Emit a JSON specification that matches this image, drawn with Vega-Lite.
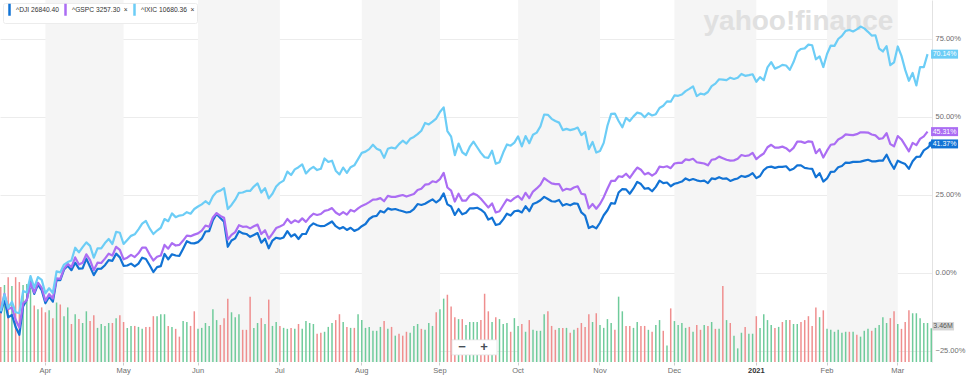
{
"$schema": "https://vega.github.io/schema/vega-lite/v6.json",
"width": 932, "height": 362,
"autosize": {"type": "none"},
"padding": {"left": 0, "top": 0, "right": 34, "bottom": 20},
"background": "#ffffff",
"config": {"view": {"stroke": null}, "font": "Liberation Sans", "text": {"font": "Liberation Sans"}},
"data": {"values": [
{"d":"2020-03-16","dji":-12.9,"gspc":-12.0,"ixic":-12.3,"vol":7.7,"dir":"down"},
{"d":"2020-03-17","dji":-8.4,"gspc":-6.7,"ixic":-6.9,"vol":7.9,"dir":"up"},
{"d":"2020-03-18","dji":-14.2,"gspc":-11.5,"ixic":-11.2,"vol":8.7,"dir":"down"},
{"d":"2020-03-19","dji":-13.4,"gspc":-11.1,"ixic":-9.2,"vol":7.8,"dir":"up"},
{"d":"2020-03-20","dji":-17.3,"gspc":-15.0,"ixic":-12.6,"vol":8.7,"dir":"down"},
{"d":"2020-03-23","dji":-19.8,"gspc":-17.5,"ixic":-12.9,"vol":8.2,"dir":"down"},
{"d":"2020-03-24","dji":-10.7,"gspc":-9.7,"ixic":-5.8,"vol":7.9,"dir":"up"},
{"d":"2020-03-25","dji":-8.6,"gspc":-8.7,"ixic":-6.2,"vol":8.0,"dir":"up"},
{"d":"2020-03-26","dji":-2.7,"gspc":-3.0,"ixic":-1.0,"vol":7.6,"dir":"up"},
{"d":"2020-03-27","dji":-6.7,"gspc":-6.3,"ixic":-4.7,"vol":5.8,"dir":"down"},
{"d":"2020-03-30","dji":-3.7,"gspc":-3.1,"ixic":-1.3,"vol":5.4,"dir":"up"},
{"d":"2020-03-31","dji":-5.5,"gspc":-4.7,"ixic":-2.2,"vol":5.6,"dir":"down"},
{"d":"2020-04-01","dji":-9.7,"gspc":-8.9,"ixic":-6.5,"vol":5.1,"dir":"down"},
{"d":"2020-04-02","dji":-7.6,"gspc":-6.8,"ixic":-4.9,"vol":5.3,"dir":"up"},
{"d":"2020-04-03","dji":-9.2,"gspc":-8.2,"ixic":-6.4,"vol":4.5,"dir":"down"},
{"d":"2020-04-06","dji":-2.2,"gspc":-1.7,"ixic":0.5,"vol":6.1,"dir":"up"},
{"d":"2020-04-07","dji":-2.3,"gspc":-1.9,"ixic":0.2,"vol":5.9,"dir":"down"},
{"d":"2020-04-08","dji":1.1,"gspc":1.4,"ixic":2.7,"vol":4.7,"dir":"up"},
{"d":"2020-04-09","dji":2.3,"gspc":2.9,"ixic":3.5,"vol":5.6,"dir":"up"},
{"d":"2020-04-13","dji":0.9,"gspc":1.9,"ixic":4.0,"vol":3.9,"dir":"down"},
{"d":"2020-04-14","dji":3.3,"gspc":5.0,"ixic":8.1,"vol":4.9,"dir":"up"},
{"d":"2020-04-15","dji":1.4,"gspc":2.7,"ixic":6.6,"vol":4.4,"dir":"down"},
{"d":"2020-04-16","dji":1.5,"gspc":3.3,"ixic":8.3,"vol":4.0,"dir":"up"},
{"d":"2020-04-17","dji":4.6,"gspc":6.0,"ixic":9.8,"vol":5.2,"dir":"up"},
{"d":"2020-04-20","dji":2.0,"gspc":4.1,"ixic":8.7,"vol":4.2,"dir":"down"},
{"d":"2020-04-21","dji":-0.7,"gspc":0.9,"ixic":4.9,"vol":4.8,"dir":"down"},
{"d":"2020-04-22","dji":1.3,"gspc":3.3,"ixic":7.9,"vol":3.5,"dir":"up"},
{"d":"2020-04-23","dji":1.4,"gspc":3.2,"ixic":7.9,"vol":3.9,"dir":"up"},
{"d":"2020-04-24","dji":2.5,"gspc":4.6,"ixic":9.6,"vol":3.7,"dir":"up"},
{"d":"2020-04-27","dji":4.1,"gspc":6.2,"ixic":10.9,"vol":4.0,"dir":"up"},
{"d":"2020-04-28","dji":3.9,"gspc":5.6,"ixic":9.3,"vol":4.0,"dir":"down"},
{"d":"2020-04-29","dji":6.2,"gspc":8.4,"ixic":13.2,"vol":4.5,"dir":"up"},
{"d":"2020-04-30","dji":5.0,"gspc":7.4,"ixic":12.9,"vol":4.8,"dir":"down"},
{"d":"2020-05-01","dji":2.3,"gspc":4.4,"ixic":9.3,"vol":4.1,"dir":"down"},
{"d":"2020-05-04","dji":2.4,"gspc":4.9,"ixic":10.6,"vol":3.5,"dir":"up"},
{"d":"2020-05-05","dji":3.0,"gspc":5.8,"ixic":11.9,"vol":3.7,"dir":"up"},
{"d":"2020-05-06","dji":2.1,"gspc":5.1,"ixic":12.4,"vol":3.7,"dir":"down"},
{"d":"2020-05-07","dji":3.0,"gspc":6.3,"ixic":14.0,"vol":3.6,"dir":"up"},
{"d":"2020-05-08","dji":4.9,"gspc":8.1,"ixic":15.8,"vol":3.4,"dir":"up"},
{"d":"2020-05-11","dji":4.5,"gspc":8.1,"ixic":16.7,"vol":3.6,"dir":"down"},
{"d":"2020-05-12","dji":2.5,"gspc":5.9,"ixic":14.3,"vol":3.6,"dir":"down"},
{"d":"2020-05-13","dji":0.3,"gspc":4.0,"ixic":12.5,"vol":4.7,"dir":"down"},
{"d":"2020-05-14","dji":1.9,"gspc":5.2,"ixic":13.6,"vol":4.7,"dir":"up"},
{"d":"2020-05-15","dji":2.2,"gspc":5.6,"ixic":14.5,"vol":4.9,"dir":"up"},
{"d":"2020-05-18","dji":6.1,"gspc":9.0,"ixic":17.3,"vol":4.9,"dir":"up"},
{"d":"2020-05-19","dji":4.4,"gspc":7.8,"ixic":16.6,"vol":3.7,"dir":"down"},
{"d":"2020-05-20","dji":6.0,"gspc":9.6,"ixic":19.1,"vol":3.6,"dir":"up"},
{"d":"2020-05-21","dji":5.6,"gspc":8.8,"ixic":17.9,"vol":3.4,"dir":"down"},
{"d":"2020-05-22","dji":5.5,"gspc":9.0,"ixic":18.4,"vol":2.6,"dir":"down"},
{"d":"2020-05-26","dji":7.8,"gspc":10.4,"ixic":18.6,"vol":4.2,"dir":"up"},
{"d":"2020-05-27","dji":10.2,"gspc":12.0,"ixic":19.5,"vol":4.1,"dir":"up"},
{"d":"2020-05-28","dji":9.6,"gspc":11.8,"ixic":19.0,"vol":3.7,"dir":"down"},
{"d":"2020-05-29","dji":9.5,"gspc":12.3,"ixic":20.5,"vol":5.2,"dir":"down"},
{"d":"2020-06-01","dji":9.9,"gspc":12.7,"ixic":21.3,"vol":3.4,"dir":"up"},
{"d":"2020-06-02","dji":11.0,"gspc":13.6,"ixic":22.0,"vol":3.5,"dir":"up"},
{"d":"2020-06-03","dji":13.3,"gspc":15.2,"ixic":23.0,"vol":4.0,"dir":"up"},
{"d":"2020-06-04","dji":13.4,"gspc":14.8,"ixic":22.1,"vol":3.7,"dir":"up"},
{"d":"2020-06-05","dji":16.9,"gspc":17.8,"ixic":24.6,"vol":5.4,"dir":"up"},
{"d":"2020-06-08","dji":18.9,"gspc":19.2,"ixic":26.0,"vol":4.3,"dir":"up"},
{"d":"2020-06-09","dji":17.6,"gspc":18.3,"ixic":26.4,"vol":3.8,"dir":"down"},
{"d":"2020-06-10","dji":16.4,"gspc":17.7,"ixic":27.2,"vol":4.5,"dir":"down"},
{"d":"2020-06-11","dji":8.4,"gspc":10.7,"ixic":20.5,"vol":6.5,"dir":"down"},
{"d":"2020-06-12","dji":10.4,"gspc":12.2,"ixic":21.8,"vol":5.1,"dir":"up"},
{"d":"2020-06-15","dji":11.1,"gspc":13.1,"ixic":23.5,"vol":4.6,"dir":"up"},
{"d":"2020-06-16","dji":13.4,"gspc":15.3,"ixic":25.7,"vol":4.9,"dir":"up"},
{"d":"2020-06-17","dji":12.7,"gspc":14.8,"ixic":25.8,"vol":3.3,"dir":"down"},
{"d":"2020-06-18","dji":12.5,"gspc":14.9,"ixic":26.3,"vol":3.3,"dir":"down"},
{"d":"2020-06-19","dji":11.6,"gspc":14.3,"ixic":26.3,"vol":6.7,"dir":"down"},
{"d":"2020-06-22","dji":12.2,"gspc":15.0,"ixic":27.7,"vol":3.5,"dir":"up"},
{"d":"2020-06-23","dji":12.8,"gspc":15.5,"ixic":28.7,"vol":4.0,"dir":"up"},
{"d":"2020-06-24","dji":9.7,"gspc":12.5,"ixic":25.8,"vol":4.5,"dir":"down"},
{"d":"2020-06-25","dji":11.0,"gspc":13.7,"ixic":27.2,"vol":3.9,"dir":"up"},
{"d":"2020-06-26","dji":7.9,"gspc":11.0,"ixic":23.9,"vol":6.4,"dir":"down"},
{"d":"2020-06-29","dji":10.4,"gspc":12.6,"ixic":25.4,"vol":3.7,"dir":"up"},
{"d":"2020-06-30","dji":11.3,"gspc":14.4,"ixic":27.7,"vol":4.1,"dir":"up"},
{"d":"2020-07-01","dji":11.0,"gspc":14.9,"ixic":28.9,"vol":3.7,"dir":"down"},
{"d":"2020-07-02","dji":11.4,"gspc":15.5,"ixic":29.6,"vol":3.5,"dir":"up"},
{"d":"2020-07-06","dji":13.4,"gspc":17.3,"ixic":32.5,"vol":3.4,"dir":"up"},
{"d":"2020-07-07","dji":11.7,"gspc":16.0,"ixic":31.4,"vol":3.5,"dir":"down"},
{"d":"2020-07-08","dji":12.4,"gspc":16.9,"ixic":33.2,"vol":3.4,"dir":"up"},
{"d":"2020-07-09","dji":10.9,"gspc":16.3,"ixic":33.9,"vol":3.9,"dir":"down"},
{"d":"2020-07-10","dji":12.5,"gspc":17.5,"ixic":34.8,"vol":3.4,"dir":"up"},
{"d":"2020-07-13","dji":12.5,"gspc":16.4,"ixic":31.9,"vol":4.2,"dir":"up"},
{"d":"2020-07-14","dji":14.9,"gspc":17.9,"ixic":33.2,"vol":4.0,"dir":"up"},
{"d":"2020-07-15","dji":15.9,"gspc":19.0,"ixic":34.0,"vol":3.9,"dir":"up"},
{"d":"2020-07-16","dji":15.3,"gspc":18.6,"ixic":33.0,"vol":2.9,"dir":"down"},
{"d":"2020-07-17","dji":15.0,"gspc":18.9,"ixic":33.4,"vol":3.0,"dir":"down"},
{"d":"2020-07-20","dji":15.1,"gspc":19.9,"ixic":36.7,"vol":3.1,"dir":"up"},
{"d":"2020-07-21","dji":15.8,"gspc":20.2,"ixic":35.6,"vol":3.6,"dir":"up"},
{"d":"2020-07-22","dji":16.5,"gspc":20.8,"ixic":36.0,"vol":4.0,"dir":"up"},
{"d":"2020-07-23","dji":15.0,"gspc":19.4,"ixic":32.8,"vol":4.3,"dir":"down"},
{"d":"2020-07-24","dji":14.2,"gspc":18.6,"ixic":31.6,"vol":4.9,"dir":"down"},
{"d":"2020-07-27","dji":14.7,"gspc":19.5,"ixic":33.8,"vol":4.1,"dir":"up"},
{"d":"2020-07-28","dji":13.8,"gspc":18.7,"ixic":32.1,"vol":3.6,"dir":"down"},
{"d":"2020-07-29","dji":14.5,"gspc":20.2,"ixic":33.9,"vol":3.5,"dir":"up"},
{"d":"2020-07-30","dji":13.5,"gspc":19.7,"ixic":34.5,"vol":3.5,"dir":"down"},
{"d":"2020-07-31","dji":14.0,"gspc":20.7,"ixic":36.5,"vol":4.9,"dir":"up"},
{"d":"2020-08-03","dji":15.0,"gspc":21.5,"ixic":38.5,"vol":4.3,"dir":"up"},
{"d":"2020-08-04","dji":15.7,"gspc":22.0,"ixic":38.9,"vol":3.5,"dir":"up"},
{"d":"2020-08-05","dji":17.3,"gspc":22.7,"ixic":39.7,"vol":3.6,"dir":"up"},
{"d":"2020-08-06","dji":18.1,"gspc":23.5,"ixic":41.1,"vol":3.2,"dir":"up"},
{"d":"2020-08-07","dji":18.3,"gspc":23.6,"ixic":39.8,"vol":3.2,"dir":"up"},
{"d":"2020-08-10","dji":19.9,"gspc":24.0,"ixic":39.3,"vol":3.6,"dir":"up"},
{"d":"2020-08-11","dji":19.4,"gspc":23.0,"ixic":36.9,"vol":4.2,"dir":"down"},
{"d":"2020-08-12","dji":20.7,"gspc":24.7,"ixic":39.8,"vol":3.4,"dir":"up"},
{"d":"2020-08-13","dji":20.3,"gspc":24.4,"ixic":40.2,"vol":3.6,"dir":"down"},
{"d":"2020-08-14","dji":20.5,"gspc":24.4,"ixic":39.9,"vol":2.7,"dir":"up"},
{"d":"2020-08-17","dji":20.1,"gspc":24.7,"ixic":41.3,"vol":2.9,"dir":"down"},
{"d":"2020-08-18","dji":19.8,"gspc":25.0,"ixic":42.4,"vol":2.7,"dir":"down"},
{"d":"2020-08-19","dji":19.4,"gspc":24.5,"ixic":41.5,"vol":3.1,"dir":"down"},
{"d":"2020-08-20","dji":19.6,"gspc":24.9,"ixic":43.0,"vol":3.0,"dir":"up"},
{"d":"2020-08-21","dji":20.5,"gspc":25.3,"ixic":43.6,"vol":3.7,"dir":"up"},
{"d":"2020-08-24","dji":22.1,"gspc":26.6,"ixic":44.5,"vol":3.9,"dir":"up"},
{"d":"2020-08-25","dji":21.8,"gspc":27.0,"ixic":45.6,"vol":3.4,"dir":"down"},
{"d":"2020-08-26","dji":22.2,"gspc":28.3,"ixic":48.1,"vol":3.3,"dir":"up"},
{"d":"2020-08-27","dji":22.9,"gspc":28.5,"ixic":47.6,"vol":4.0,"dir":"up"},
{"d":"2020-08-28","dji":23.6,"gspc":29.4,"ixic":48.5,"vol":3.7,"dir":"up"},
{"d":"2020-08-31","dji":22.6,"gspc":29.1,"ixic":49.5,"vol":5.1,"dir":"down"},
{"d":"2020-09-01","dji":23.5,"gspc":30.1,"ixic":51.6,"vol":5.4,"dir":"up"},
{"d":"2020-09-02","dji":25.5,"gspc":32.1,"ixic":53.1,"vol":6.5,"dir":"up"},
{"d":"2020-09-03","dji":22.0,"gspc":27.4,"ixic":45.5,"vol":6.9,"dir":"down"},
{"d":"2020-09-04","dji":21.3,"gspc":26.4,"ixic":43.7,"vol":5.7,"dir":"down"},
{"d":"2020-09-08","dji":18.6,"gspc":22.9,"ixic":37.8,"vol":4.6,"dir":"down"},
{"d":"2020-09-09","dji":20.5,"gspc":25.4,"ixic":41.5,"vol":4.4,"dir":"up"},
{"d":"2020-09-10","dji":18.8,"gspc":23.2,"ixic":38.7,"vol":4.4,"dir":"down"},
{"d":"2020-09-11","dji":19.3,"gspc":23.2,"ixic":37.8,"vol":3.8,"dir":"up"},
{"d":"2020-09-14","dji":20.7,"gspc":24.8,"ixic":40.4,"vol":4.1,"dir":"up"},
{"d":"2020-09-15","dji":20.7,"gspc":25.5,"ixic":42.1,"vol":4.1,"dir":"up"},
{"d":"2020-09-16","dji":20.9,"gspc":24.9,"ixic":40.3,"vol":4.1,"dir":"up"},
{"d":"2020-09-17","dji":20.3,"gspc":23.8,"ixic":38.5,"vol":4.3,"dir":"down"},
{"d":"2020-09-18","dji":19.3,"gspc":22.4,"ixic":37.1,"vol":7.0,"dir":"down"},
{"d":"2020-09-21","dji":17.1,"gspc":21.0,"ixic":36.9,"vol":5.2,"dir":"down"},
{"d":"2020-09-22","dji":17.7,"gspc":22.3,"ixic":39.2,"vol":4.1,"dir":"up"},
{"d":"2020-09-23","dji":15.4,"gspc":19.4,"ixic":35.0,"vol":4.6,"dir":"down"},
{"d":"2020-09-24","dji":15.7,"gspc":19.8,"ixic":35.5,"vol":4.4,"dir":"up"},
{"d":"2020-09-25","dji":17.2,"gspc":21.7,"ixic":38.6,"vol":3.9,"dir":"up"},
{"d":"2020-09-28","dji":19.0,"gspc":23.6,"ixic":41.2,"vol":4.0,"dir":"up"},
{"d":"2020-09-29","dji":18.4,"gspc":23.0,"ixic":40.8,"vol":3.1,"dir":"down"},
{"d":"2020-09-30","dji":19.8,"gspc":24.0,"ixic":41.8,"vol":4.5,"dir":"up"},
{"d":"2020-10-01","dji":20.0,"gspc":24.7,"ixic":43.8,"vol":3.7,"dir":"up"},
{"d":"2020-10-02","dji":19.4,"gspc":23.5,"ixic":40.6,"vol":3.9,"dir":"down"},
{"d":"2020-10-05","dji":21.4,"gspc":25.7,"ixic":43.9,"vol":3.1,"dir":"up"},
{"d":"2020-10-06","dji":19.8,"gspc":24.0,"ixic":41.6,"vol":4.3,"dir":"down"},
{"d":"2020-10-07","dji":22.1,"gspc":26.1,"ixic":44.3,"vol":3.3,"dir":"up"},
{"d":"2020-10-08","dji":22.6,"gspc":27.1,"ixic":45.0,"vol":3.2,"dir":"up"},
{"d":"2020-10-09","dji":23.3,"gspc":28.3,"ixic":47.0,"vol":3.2,"dir":"up"},
{"d":"2020-10-12","dji":24.4,"gspc":30.4,"ixic":50.8,"vol":4.9,"dir":"up"},
{"d":"2020-10-13","dji":23.7,"gspc":29.5,"ixic":50.7,"vol":5.2,"dir":"down"},
{"d":"2020-10-14","dji":23.0,"gspc":28.7,"ixic":49.4,"vol":3.7,"dir":"down"},
{"d":"2020-10-15","dji":22.9,"gspc":28.5,"ixic":48.7,"vol":3.3,"dir":"down"},
{"d":"2020-10-16","dji":23.4,"gspc":28.5,"ixic":48.2,"vol":3.5,"dir":"up"},
{"d":"2020-10-19","dji":21.6,"gspc":26.4,"ixic":45.8,"vol":3.5,"dir":"down"},
{"d":"2020-10-20","dji":22.1,"gspc":27.0,"ixic":46.2,"vol":3.5,"dir":"up"},
{"d":"2020-10-21","dji":21.7,"gspc":26.7,"ixic":45.8,"vol":3.0,"dir":"down"},
{"d":"2020-10-22","dji":22.3,"gspc":27.4,"ixic":46.1,"vol":3.3,"dir":"up"},
{"d":"2020-10-23","dji":22.2,"gspc":27.8,"ixic":46.6,"vol":3.5,"dir":"down"},
{"d":"2020-10-26","dji":19.4,"gspc":25.4,"ixic":44.2,"vol":4.0,"dir":"down"},
{"d":"2020-10-27","dji":18.4,"gspc":25.1,"ixic":45.2,"vol":3.6,"dir":"down"},
{"d":"2020-10-28","dji":14.4,"gspc":20.7,"ixic":39.7,"vol":4.9,"dir":"down"},
{"d":"2020-10-29","dji":15.0,"gspc":22.1,"ixic":42.0,"vol":4.1,"dir":"up"},
{"d":"2020-10-30","dji":14.3,"gspc":20.6,"ixic":38.6,"vol":5.0,"dir":"down"},
{"d":"2020-11-02","dji":16.1,"gspc":22.1,"ixic":39.1,"vol":3.8,"dir":"up"},
{"d":"2020-11-03","dji":18.5,"gspc":24.3,"ixic":41.7,"vol":3.5,"dir":"up"},
{"d":"2020-11-04","dji":20.1,"gspc":27.0,"ixic":47.2,"vol":4.4,"dir":"up"},
{"d":"2020-11-05","dji":22.4,"gspc":29.5,"ixic":51.0,"vol":4.0,"dir":"up"},
{"d":"2020-11-06","dji":22.2,"gspc":29.5,"ixic":51.1,"vol":3.3,"dir":"down"},
{"d":"2020-11-09","dji":25.8,"gspc":31.0,"ixic":48.7,"vol":6.7,"dir":"up"},
{"d":"2020-11-10","dji":26.9,"gspc":30.8,"ixic":46.7,"vol":5.2,"dir":"up"},
{"d":"2020-11-11","dji":26.8,"gspc":31.8,"ixic":49.7,"vol":3.7,"dir":"down"},
{"d":"2020-11-12","dji":25.4,"gspc":30.5,"ixic":48.7,"vol":3.7,"dir":"down"},
{"d":"2020-11-13","dji":27.1,"gspc":32.2,"ixic":50.2,"vol":3.5,"dir":"up"},
{"d":"2020-11-16","dji":29.2,"gspc":33.8,"ixic":51.4,"vol":4.1,"dir":"up"},
{"d":"2020-11-17","dji":28.5,"gspc":33.1,"ixic":51.1,"vol":3.7,"dir":"down"},
{"d":"2020-11-18","dji":27.0,"gspc":31.6,"ixic":49.9,"vol":3.7,"dir":"down"},
{"d":"2020-11-19","dji":27.2,"gspc":32.1,"ixic":51.2,"vol":3.3,"dir":"up"},
{"d":"2020-11-20","dji":26.2,"gspc":31.2,"ixic":50.5,"vol":3.1,"dir":"down"},
{"d":"2020-11-23","dji":27.6,"gspc":32.0,"ixic":50.9,"vol":3.8,"dir":"up"},
{"d":"2020-11-24","dji":29.6,"gspc":34.1,"ixic":52.9,"vol":4.3,"dir":"up"},
{"d":"2020-11-25","dji":28.8,"gspc":33.9,"ixic":53.6,"vol":3.2,"dir":"down"},
{"d":"2020-11-27","dji":29.0,"gspc":34.2,"ixic":55.0,"vol":1.7,"dir":"up"},
{"d":"2020-11-30","dji":27.8,"gspc":33.6,"ixic":54.9,"vol":5.5,"dir":"down"},
{"d":"2020-12-01","dji":28.6,"gspc":35.1,"ixic":56.9,"vol":4.2,"dir":"up"},
{"d":"2020-12-02","dji":28.9,"gspc":35.3,"ixic":56.8,"vol":3.8,"dir":"up"},
{"d":"2020-12-03","dji":29.3,"gspc":35.3,"ixic":57.2,"vol":4.0,"dir":"up"},
{"d":"2020-12-04","dji":30.3,"gspc":36.4,"ixic":58.3,"vol":3.5,"dir":"up"},
{"d":"2020-12-07","dji":29.7,"gspc":36.2,"ixic":59.0,"vol":3.6,"dir":"down"},
{"d":"2020-12-08","dji":30.1,"gspc":36.6,"ixic":59.8,"vol":3.1,"dir":"up"},
{"d":"2020-12-09","dji":29.7,"gspc":35.5,"ixic":56.7,"vol":3.8,"dir":"down"},
{"d":"2020-12-10","dji":29.4,"gspc":35.3,"ixic":57.5,"vol":3.3,"dir":"down"},
{"d":"2020-12-11","dji":29.6,"gspc":35.1,"ixic":57.2,"vol":3.8,"dir":"up"},
{"d":"2020-12-14","dji":28.8,"gspc":34.5,"ixic":58.0,"vol":3.7,"dir":"down"},
{"d":"2020-12-15","dji":30.3,"gspc":36.3,"ixic":59.9,"vol":4.1,"dir":"up"},
{"d":"2020-12-16","dji":30.1,"gspc":36.5,"ixic":60.7,"vol":3.4,"dir":"down"},
{"d":"2020-12-17","dji":30.7,"gspc":37.3,"ixic":62.1,"vol":3.4,"dir":"up"},
{"d":"2020-12-18","dji":30.2,"gspc":36.8,"ixic":62.0,"vol":7.8,"dir":"down"},
{"d":"2020-12-21","dji":30.3,"gspc":36.3,"ixic":61.8,"vol":4.3,"dir":"up"},
{"d":"2020-12-22","dji":29.5,"gspc":36.0,"ixic":62.6,"vol":4.0,"dir":"down"},
{"d":"2020-12-23","dji":30.0,"gspc":36.1,"ixic":62.2,"vol":2.7,"dir":"up"},
{"d":"2020-12-24","dji":30.3,"gspc":36.6,"ixic":62.6,"vol":1.4,"dir":"up"},
{"d":"2020-12-28","dji":31.1,"gspc":37.8,"ixic":63.8,"vol":3.0,"dir":"up"},
{"d":"2020-12-29","dji":30.8,"gspc":37.5,"ixic":63.2,"vol":3.6,"dir":"down"},
{"d":"2020-12-30","dji":31.2,"gspc":37.7,"ixic":63.4,"vol":2.9,"dir":"up"},
{"d":"2020-12-31","dji":32.0,"gspc":38.5,"ixic":63.7,"vol":2.9,"dir":"up"},
{"d":"2021-01-04","dji":30.4,"gspc":36.5,"ixic":61.3,"vol":4.7,"dir":"down"},
{"d":"2021-01-05","dji":31.1,"gspc":37.5,"ixic":62.8,"vol":3.5,"dir":"up"},
{"d":"2021-01-06","dji":33.0,"gspc":38.3,"ixic":61.8,"vol":4.9,"dir":"up"},
{"d":"2021-01-07","dji":33.9,"gspc":40.3,"ixic":65.9,"vol":4.3,"dir":"up"},
{"d":"2021-01-08","dji":34.1,"gspc":41.1,"ixic":67.6,"vol":3.8,"dir":"up"},
{"d":"2021-01-11","dji":33.7,"gspc":40.2,"ixic":65.5,"vol":3.5,"dir":"down"},
{"d":"2021-01-12","dji":34.0,"gspc":40.2,"ixic":66.0,"vol":3.6,"dir":"up"},
{"d":"2021-01-13","dji":34.0,"gspc":40.5,"ixic":66.7,"vol":4.1,"dir":"down"},
{"d":"2021-01-14","dji":34.2,"gspc":40.0,"ixic":66.5,"vol":4.3,"dir":"up"},
{"d":"2021-01-15","dji":32.9,"gspc":39.0,"ixic":65.1,"vol":4.3,"dir":"down"},
{"d":"2021-01-19","dji":33.4,"gspc":40.1,"ixic":67.6,"vol":3.9,"dir":"up"},
{"d":"2021-01-20","dji":34.5,"gspc":42.1,"ixic":70.9,"vol":3.9,"dir":"up"},
{"d":"2021-01-21","dji":34.5,"gspc":42.1,"ixic":71.8,"vol":4.1,"dir":"down"},
{"d":"2021-01-22","dji":33.7,"gspc":41.7,"ixic":72.0,"vol":4.3,"dir":"down"},
{"d":"2021-01-25","dji":33.5,"gspc":42.2,"ixic":73.2,"vol":4.7,"dir":"down"},
{"d":"2021-01-26","dji":33.4,"gspc":42.0,"ixic":73.0,"vol":3.7,"dir":"down"},
{"d":"2021-01-27","dji":30.7,"gspc":38.4,"ixic":68.5,"vol":5.6,"dir":"down"},
{"d":"2021-01-28","dji":32.0,"gspc":39.7,"ixic":69.4,"vol":4.6,"dir":"up"},
{"d":"2021-01-29","dji":29.3,"gspc":37.0,"ixic":66.0,"vol":5.3,"dir":"down"},
{"d":"2021-02-01","dji":30.3,"gspc":39.2,"ixic":70.2,"vol":3.4,"dir":"up"},
{"d":"2021-02-02","dji":32.4,"gspc":41.1,"ixic":72.9,"vol":3.3,"dir":"up"},
{"d":"2021-02-03","dji":32.5,"gspc":41.3,"ixic":72.8,"vol":3.1,"dir":"up"},
{"d":"2021-02-04","dji":33.9,"gspc":42.8,"ixic":75.0,"vol":3.3,"dir":"up"},
{"d":"2021-02-05","dji":34.3,"gspc":43.4,"ixic":76.0,"vol":3.0,"dir":"up"},
{"d":"2021-02-08","dji":35.4,"gspc":44.4,"ixic":77.6,"vol":3.1,"dir":"up"},
{"d":"2021-02-09","dji":35.3,"gspc":44.3,"ixic":77.9,"vol":3.1,"dir":"down"},
{"d":"2021-02-10","dji":35.6,"gspc":44.2,"ixic":77.4,"vol":3.1,"dir":"up"},
{"d":"2021-02-11","dji":35.6,"gspc":44.5,"ixic":78.1,"vol":2.8,"dir":"down"},
{"d":"2021-02-12","dji":35.7,"gspc":45.1,"ixic":79.0,"vol":2.6,"dir":"up"},
{"d":"2021-02-16","dji":36.0,"gspc":45.1,"ixic":78.4,"vol":3.2,"dir":"up"},
{"d":"2021-02-17","dji":36.3,"gspc":45.0,"ixic":77.3,"vol":3.4,"dir":"up"},
{"d":"2021-02-18","dji":35.8,"gspc":44.4,"ixic":76.1,"vol":3.2,"dir":"down"},
{"d":"2021-02-19","dji":35.8,"gspc":44.1,"ixic":76.2,"vol":3.5,"dir":"up"},
{"d":"2021-02-22","dji":36.0,"gspc":43.0,"ixic":71.9,"vol":3.8,"dir":"up"},
{"d":"2021-02-23","dji":36.0,"gspc":43.2,"ixic":71.0,"vol":4.6,"dir":"up"},
{"d":"2021-02-24","dji":37.9,"gspc":44.8,"ixic":72.7,"vol":4.0,"dir":"up"},
{"d":"2021-02-25","dji":35.4,"gspc":41.3,"ixic":66.6,"vol":4.5,"dir":"down"},
{"d":"2021-02-26","dji":33.4,"gspc":40.6,"ixic":67.5,"vol":5.2,"dir":"down"},
{"d":"2021-03-01","dji":36.0,"gspc":43.9,"ixic":72.6,"vol":3.9,"dir":"up"},
{"d":"2021-03-02","dji":35.4,"gspc":42.8,"ixic":69.6,"vol":3.4,"dir":"down"},
{"d":"2021-03-03","dji":34.9,"gspc":40.9,"ixic":65.1,"vol":4.1,"dir":"down"},
{"d":"2021-03-04","dji":33.4,"gspc":39.0,"ixic":61.6,"vol":5.3,"dir":"down"},
{"d":"2021-03-05","dji":35.8,"gspc":41.7,"ixic":64.1,"vol":5.0,"dir":"up"},
{"d":"2021-03-08","dji":37.2,"gspc":41.0,"ixic":60.1,"vol":5.0,"dir":"up"},
{"d":"2021-03-09","dji":37.3,"gspc":43.0,"ixic":66.0,"vol":4.5,"dir":"up"},
{"d":"2021-03-10","dji":39.3,"gspc":43.8,"ixic":66.0,"vol":4.0,"dir":"up"},
{"d":"2021-03-11","dji":40.1,"gspc":45.31,"ixic":70.14,"vol":4.0,"dir":"up"},
{"d":"2021-03-12","dji":41.37,"gspc":null,"ixic":null,"vol":3.46,"dir":"up"}
]},
"resolve": {"scale": {"y": "independent"}},
"layer": [
{
 "data": {"values": [
  {"s":"2020-04-01","e":"2020-05-01"},
  {"s":"2020-06-01","e":"2020-07-01"},
  {"s":"2020-08-03","e":"2020-09-01"},
  {"s":"2020-10-01","e":"2020-11-02"},
  {"s":"2020-12-01","e":"2021-01-04"},
  {"s":"2021-02-01","e":"2021-03-01"}
 ]},
 "mark": {"type": "rect", "color": "#f5f5f5"},
 "encoding": {
  "x": {"field": "s", "type": "ordinal", "title": null},
  "x2": {"field": "e"}
 }
},
{
 "data": {"values": [{}]},
 "mark": {"type": "text", "text": "yahoo!finance", "align": "right", "baseline": "alphabetic", "fontSize": 28, "fontWeight": "bold", "font": "Liberation Sans", "fill": "#e0e0e0", "dx": 3},
 "encoding": {
  "x": {"datum": "2021-02-25", "type": "ordinal"},
  "y": {"datum": 77.9, "type": "quantitative", "scale": {"domain": [-28.53, 87.5]}, "axis": null}
 }
},
{
 "mark": {"type": "bar"},
 "encoding": {
  "x": {"field": "d", "type": "ordinal", "title": null,
   "scale": {"type": "band", "paddingInner": 0.6, "paddingOuter": 0},
   "axis": {
    "values": ["2020-04-01","2020-05-01","2020-06-01","2020-07-01","2020-08-03","2020-09-01","2020-10-01","2020-11-02","2020-12-01","2021-01-04","2021-02-01","2021-03-01"],
    "labelExpr": "datum.value === '2021-01-04' ? '2021' : utcFormat(toDate(datum.value), '%b')",
    "labelAngle": 0, "labelAlign": "center", "labelBaseline": "top",
    "domain": false, "ticks": true, "tickSize": 3, "tickColor": "#cccccc",
    "labelFontSize": 7.5, "labelFont": "Liberation Sans", "labelPadding": 1,
    "labelColor": {"condition": {"test": "datum.value === '2021-01-04'", "value": "#333333"}, "value": "#6e6e6e"},
    "labelFontWeight": {"condition": {"test": "datum.value === '2021-01-04'", "value": "bold"}, "value": "normal"},
    "grid": false, "title": null
   }
  },
  "y": {"field": "vol", "type": "quantitative", "scale": {"domain": [0, 37.13]}, "axis": null},
  "fill": {"condition": {"test": "datum.dir === 'up'", "value": "#6fcb9b"}, "value": "#ef8e8e"}
 }
},
{
 "mark": {"type": "line", "strokeWidth": 2.2, "strokeJoin": "round"},
 "encoding": {
  "x": {"field": "d", "type": "ordinal", "title": null, "bandPosition": 0.5},
  "y": {"field": "dji", "type": "quantitative", "scale": {"domain": [-28.53, 87.5]},
   "axis": {"orient": "right", "values": [-25, 0, 25, 50, 75], "labelExpr": "format(datum.value, '.2f') + '%'",
    "grid": true, "gridColor": "#ececec", "domain": true, "domainColor": "#e2e2e2", "ticks": false,
    "labelPadding": 3, "labelFontSize": 7.5, "labelFont": "Liberation Sans", "labelColor": "#6e6e6e", "title": null}},
  "color": {"datum": "^DJI 26840.40", "type": "nominal",
   "scale": {"domain": ["^DJI 26840.40", "^GSPC 3257.30\u00a0\u00a0\u00d7", "^IXIC 10680.36\u00a0\u00a0\u00d7"], "range": ["#1273d5", "#ab6df3", "#6ccdf6"]},
   "legend": {"orient": "top-left", "direction": "horizontal", "columns": 3, "title": null,
    "symbolType": "M0,-2V2", "symbolSize": 36, "symbolStrokeWidth": 2.5,
    "labelFontSize": 6.7, "labelFont": "Liberation Sans", "labelColor": "#333333", "labelOffset": 2,
    "columnPadding": 1, "padding": 2, "offset": 3, "fillColor": "#ffffff", "strokeColor": "#ececec", "cornerRadius": 2}}
 }
},
{
 "mark": {"type": "line", "strokeWidth": 2.2, "strokeJoin": "round"},
 "encoding": {
  "x": {"field": "d", "type": "ordinal", "title": null, "bandPosition": 0.5},
  "y": {"field": "gspc", "type": "quantitative", "scale": {"domain": [-28.53, 87.5]}, "axis": null},
  "color": {"datum": "^GSPC 3257.30\u00a0\u00a0\u00d7", "type": "nominal"}
 }
},
{
 "mark": {"type": "line", "strokeWidth": 2.2, "strokeJoin": "round"},
 "encoding": {
  "x": {"field": "d", "type": "ordinal", "title": null, "bandPosition": 0.5},
  "y": {"field": "ixic", "type": "quantitative", "scale": {"domain": [-28.53, 87.5]}, "axis": null},
  "color": {"datum": "^IXIC 10680.36\u00a0\u00a0\u00d7", "type": "nominal"}
 }
},
{
 "data": {"values": [{"v": 41.37}]},
 "mark": {"type": "circle", "size": 30, "color": "#1273d5", "opacity": 1},
 "encoding": {
  "x": {"datum": "2021-03-12", "type": "ordinal"},
  "y": {"field": "v", "type": "quantitative", "scale": {"domain": [-28.53, 87.5]}, "axis": null}
 }
},
{
 "data": {"values": [{"s": "IXIC", "v": 70.14, "t": "70.14%"}, {"s": "GSPC", "v": 45.31, "t": "45.31%"}, {"s": "DJI", "v": 41.37, "t": "41.37%"}]},
 "mark": {"type": "point", "shape": "M-0.02,-0.45H2.68V0.45H-0.02Z", "size": 400, "filled": true, "opacity": 1, "strokeWidth": 0},
 "encoding": {
  "x": {"datum": "2021-03-12", "type": "ordinal"},
  "y": {"field": "v", "type": "quantitative", "scale": {"domain": [-28.53, 87.5]}, "axis": null},
  "fill": {"field": "s", "type": "nominal", "scale": {"domain": ["DJI", "GSPC", "IXIC"], "range": ["#1273d5", "#ab6df3", "#6ccdf6"]}, "legend": null}
 }
},
{
 "data": {"values": [{"v": 70.14, "t": "70.14%"}, {"v": 45.31, "t": "45.31%"}, {"v": 41.37, "t": "41.37%"}]},
 "mark": {"type": "text", "align": "center", "baseline": "middle", "dx": 13.3, "fontSize": 7, "font": "Liberation Sans", "fill": "#ffffff"},
 "encoding": {
  "x": {"datum": "2021-03-12", "type": "ordinal"},
  "y": {"field": "v", "type": "quantitative", "scale": {"domain": [-28.53, 87.5]}, "axis": null},
  "text": {"field": "t"}
 }
},
{
 "data": {"values": [{"v": 3.46, "t": "3.46M"}]},
 "mark": {"type": "point", "shape": "M0.08,-0.62H2.28V0.22H0.08Z", "size": 400, "filled": true, "fill": "#d6d6d6", "opacity": 1, "strokeWidth": 0},
 "encoding": {
  "x": {"datum": "2021-03-12", "type": "ordinal"},
  "y": {"field": "v", "type": "quantitative", "scale": {"domain": [0, 37.13]}, "axis": null}
 }
},
{
 "data": {"values": [{"v": 3.46, "t": "3.46M"}]},
 "mark": {"type": "text", "align": "center", "baseline": "middle", "dx": 11.8, "dy": -2, "fontSize": 7, "font": "Liberation Sans", "fill": "#555555"},
 "encoding": {
  "x": {"datum": "2021-03-12", "type": "ordinal"},
  "y": {"field": "v", "type": "quantitative", "scale": {"domain": [0, 37.13]}, "axis": null},
  "text": {"field": "t"}
 }
},
{
 "data": {"values": [{"v": 1.5}]},
 "mark": {"type": "point", "shape": "M-1.77,-0.75H2.73V0.75H-1.77Z", "size": 400, "filled": true, "fill": "#ffffff", "stroke": "#e2e2e2", "strokeWidth": 0.8, "opacity": 1},
 "encoding": {
  "x": {"datum": "2020-09-14", "type": "ordinal"},
  "y": {"field": "v", "type": "quantitative", "scale": {"domain": [0, 37.13]}, "axis": null}
 }
},
{
 "data": {"values": [{"v": 1.5, "t": "\u2212"}]},
 "mark": {"type": "text", "align": "center", "baseline": "middle", "dx": -7.7, "fontSize": 13, "fontWeight": "bold", "font": "Liberation Sans", "fill": "#464e56"},
 "encoding": {
  "x": {"datum": "2020-09-14", "type": "ordinal"},
  "y": {"field": "v", "type": "quantitative", "scale": {"domain": [0, 37.13]}, "axis": null},
  "text": {"field": "t"}
 }
},
{
 "data": {"values": [{"v": 1.5, "t": "+"}]},
 "mark": {"type": "text", "align": "center", "baseline": "middle", "dx": 14.3, "fontSize": 13, "fontWeight": "bold", "font": "Liberation Sans", "fill": "#464e56"},
 "encoding": {
  "x": {"datum": "2020-09-14", "type": "ordinal"},
  "y": {"field": "v", "type": "quantitative", "scale": {"domain": [0, 37.13]}, "axis": null},
  "text": {"field": "t"}
 }
}
]
}
